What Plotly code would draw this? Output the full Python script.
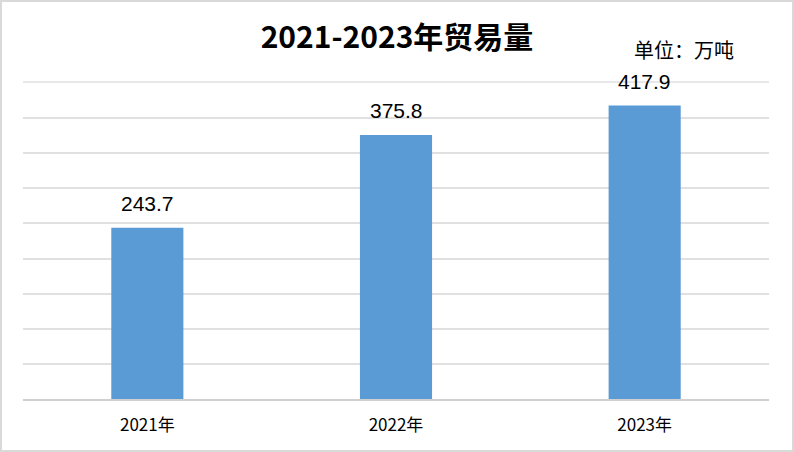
import plotly.graph_objects as go

categories = ["2021年", "2022年", "2023年"]
values = [243.7, 375.8, 417.9]
value_labels = ["243.7", "375.8", "417.9"]
title_text = "2021-2023年贸易量"
unit_text = "单位：万吨"
grid_vals = [50, 100, 150, 200, 250, 300, 350, 400, 450]

W, H = 794, 452
L, R, T, B = 23, 25, 83, 53
PW, PH = W - L - R, H - T - B


def px_x(x):
    return (x - L) / PW


def px_y(y):
    return (H - B - y) / PH


fig = go.Figure()
fig.add_trace(go.Bar(
    x=categories, y=values,
    marker=dict(color="#5B9BD5", line=dict(width=0)),
    width=0.29,
    hoverinfo="x+y",
))

for c, v, t in zip(categories, values, value_labels):
    fig.add_annotation(x=c, y=v, text=t, showarrow=False, yanchor="bottom",
                       yshift=11, font=dict(family="Liberation Sans, Arial", size=21, color="#000000"))

fig.add_annotation(xref="paper", yref="paper", x=px_x(684), y=px_y(49), text=unit_text,
                   showarrow=False, xanchor="center", yanchor="middle",
                   font=dict(family="Noto Sans CJK SC", size=20, color="#000000"))

# top gridline (plotly omits the gridline at the range edge)
fig.add_shape(type="line", xref="paper", yref="paper", x0=0, x1=1, y0=1, y1=1,
              ysizemode="pixel", yanchor=1,
              line=dict(color="#E0E0E0", width=1.5), layer="below")

fig.add_shape(type="rect", xref="paper", yref="paper",
              x0=px_x(1), x1=px_x(W - 1), y0=px_y(H - 1), y1=px_y(1),
              line=dict(color="#D9D9D9", width=2), fillcolor="rgba(0,0,0,0)", layer="above")

fig.update_layout(
    width=W, height=H,
    margin=dict(l=L, r=R, t=T, b=B, pad=0),
    paper_bgcolor="#FFFFFF", plot_bgcolor="#FFFFFF",
    showlegend=False,
    title=dict(text="<b>" + title_text + "</b>", x=397 / W, xanchor="center",
               y=1 - 37 / H, yanchor="middle", yref="container",
               font=dict(family="Noto Sans CJK SC", size=30, color="#000000")),
    xaxis=dict(showline=True, linecolor="#D0D0D0", linewidth=2, ticks="",
               tickfont=dict(family="Noto Sans CJK SC", size=17, color="#000000"),
               ticklabelstandoff=10, showgrid=False, fixedrange=True),
    yaxis=dict(range=[0, 450], tickvals=grid_vals,
               showticklabels=False, showgrid=True,
               gridcolor="#E0E0E0", gridwidth=1.5, zeroline=False, ticks="", fixedrange=True),
)

fig.write_html("out.html", config={"displayModeBar": False},
               post_script="document.body.style.margin='0px';")
